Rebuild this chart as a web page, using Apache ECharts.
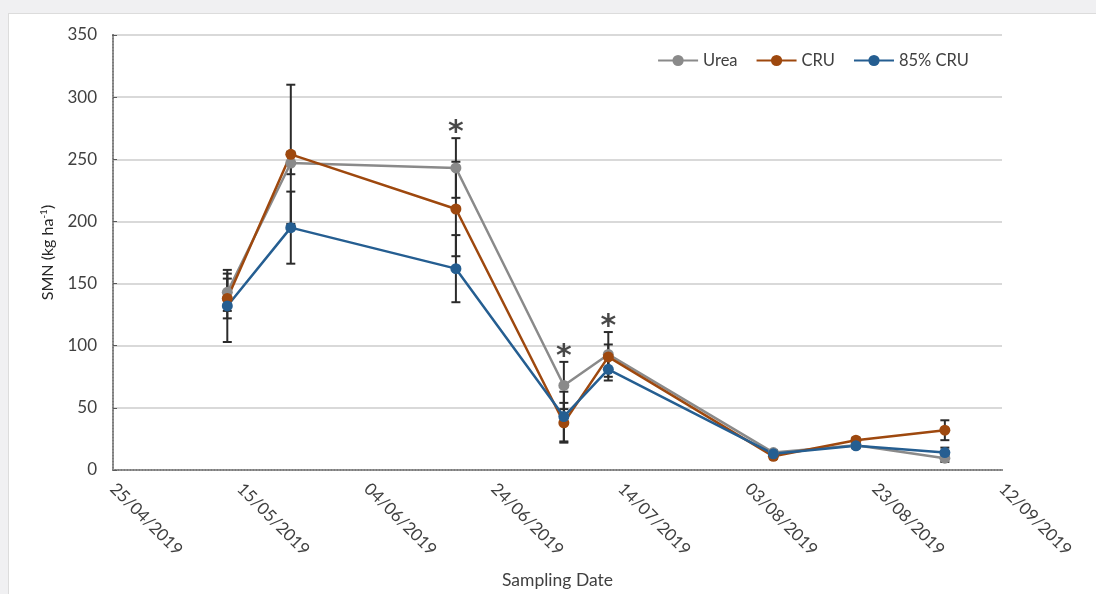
<!DOCTYPE html>
<html>
<head>
<meta charset="utf-8">
<script src="https://cdn.jsdelivr.net/npm/echarts@6/dist/echarts.min.js"></script>
<style>
html,body{margin:0;padding:0;width:1096px;height:594px;overflow:hidden;background:#f0f0f2;}
#paper{position:absolute;left:8px;top:13px;width:1088px;height:581px;background:#ffffff;border-left:1px solid #dcdcdc;border-top:1px solid #dcdcdc;box-sizing:border-box;}
#chart{position:absolute;left:0;top:0;width:1096px;height:594px;}
</style>
</head>
<body>
<div id="paper"></div>
<div id="chart"></div>
<script>
// ---- data ----
const startDate = '2019-04-25';
const tickLabels = ['25/04/2019','15/05/2019','04/06/2019','24/06/2019','14/07/2019','03/08/2019','23/08/2019','12/09/2019'];
const sampleDates = ['2019-05-13','2019-05-23','2019-06-18','2019-07-05','2019-07-12','2019-08-07','2019-08-20','2019-09-03'];
const seriesNames = ['Urea','CRU','85% CRU'];
const ureaValues = [143, 247, 243, 68, 93, 14, 20, 9.5];
const ureaErr    = [15, 9, 24, 19, 18, 2, 2, 3];
const cruValues  = [138, 254, 210, 38, 91, 11, 24, 32];
const cruErr     = [16, 56, 38, 16, 10, 2, 2, 8];
const cru85Values= [132, 195, 162, 43, 81, 13, 19.5, 14];
const cru85Err   = [29, 29, 27, 20, 9, 2, 2, 4];
const sigDates   = ['2019-06-18','2019-07-05','2019-07-12'];

// ---- helpers ----
const DAY = 86400000;
const t0 = Date.parse(startDate + 'T00:00:00Z');
const dayOf = s => Math.round((Date.parse(s + 'T00:00:00Z') - t0) / DAY);
const xs = sampleDates.map(dayOf);
const colors = ['#8a8a8a', '#9e480e', '#255e91'];
const allVals = [ureaValues, cruValues, cru85Values];
const allErr = [ureaErr, cruErr, cru85Err];
const FONT = 'Lato, "Noto Sans", sans-serif';

const lineSeries = seriesNames.map((name, i) => ({
  name, type: 'line', z: 3,
  data: xs.map((x, k) => [x, allVals[i][k]]),
  symbol: 'circle', symbolSize: 11,
  color: colors[i],
  lineStyle: { color: colors[i], width: 2.5 },
  itemStyle: { color: colors[i] },
  emphasis: { disabled: true }
}));

const errSeries = seriesNames.map((name, i) => ({
  name: name + ' error', type: 'custom', z: 2, silent: true,
  data: xs.map((x, k) => [x, allVals[i][k] - allErr[i][k], allVals[i][k] + allErr[i][k]]),
  encode: { x: 0, y: [1, 2] },
  renderItem: function (params, api) {
    const x = api.value(0);
    const lo = api.coord([x, api.value(1)]);
    const hi = api.coord([x, api.value(2)]);
    const w = 4.5;
    const st = { stroke: '#2b2b2b', lineWidth: 2 };
    return { type: 'group', children: [
      { type: 'line', shape: { x1: lo[0], y1: lo[1], x2: hi[0], y2: hi[1] }, style: st },
      { type: 'line', shape: { x1: hi[0] - w, y1: hi[1], x2: hi[0] + w, y2: hi[1] }, style: st },
      { type: 'line', shape: { x1: lo[0] - w, y1: lo[1], x2: lo[0] + w, y2: lo[1] }, style: st }
    ]};
  }
}));

const sigData = sigDates.map(d => {
  const k = sampleDates.indexOf(d);
  const top = Math.max(...allVals.map((v, i) => v[k] + allErr[i][k]));
  return [dayOf(d), top];
});

const option = {
  backgroundColor: 'transparent',
  animation: false,
  textStyle: { fontFamily: FONT },
  grid: { left: 113, right: 94, top: 35, bottom: 122, containLabel: false },
  legend: {
    data: seriesNames,
    top: 47, right: 122,
    itemWidth: 40, itemHeight: 14, itemGap: 18,
    textStyle: { fontSize: 16.5, color: '#404040', fontFamily: FONT }
  },
  xAxis: [{
    type: 'value', min: 0, max: 140, interval: 20,
    name: 'Sampling Date', nameLocation: 'middle', nameGap: 101,
    nameTextStyle: { fontSize: 17.5, color: '#404040', fontFamily: FONT },
    axisLine: { show: true, lineStyle: { color: '#595959', width: 2 } },
    axisTick: { show: false },
    splitLine: { show: false },
    axisLabel: {
      rotate: -45, margin: 16, fontSize: 17, color: '#404040', fontFamily: FONT,
      formatter: v => tickLabels[Math.round(v / 20)] || ''
    }
  }, {
    type: 'value', min: 0, max: 140, position: 'top',
    axisLine: { show: true, lineStyle: { color: '#a6a6a6', width: 1.5, type: 'dotted' } },
    axisTick: { show: false }, axisLabel: { show: false }, splitLine: { show: false }
  }],
  yAxis: [{
    type: 'value', min: 0, max: 350, interval: 50,
    name: '{a|SMN (kg ha}{s|-1}{a|)}', nameLocation: 'middle', nameGap: 57,
    nameTextStyle: {
      rich: {
        a: { fontSize: 16, color: '#262626', fontFamily: FONT },
        s: { fontSize: 10, color: '#262626', fontFamily: FONT, verticalAlign: 'top', padding: [0, 0, 7, 0] }
      }
    },
    axisLine: { show: true, lineStyle: { color: '#595959', width: 2 } },
    axisTick: { show: true, inside: true, length: 4, lineStyle: { color: '#595959' } },
    splitLine: { show: true, lineStyle: { color: '#d9d9d9', width: 2 } },
    axisLabel: { margin: 16, fontSize: 17, color: '#404040', fontFamily: FONT }
  }, {
    type: 'value', min: 0, max: 350, position: 'right',
    axisLine: { show: true, lineStyle: { color: '#a6a6a6', width: 1.5, type: 'dotted' } },
    axisTick: { show: false }, axisLabel: { show: false }, splitLine: { show: false }
  }],
  series: [
    ...errSeries,
    ...lineSeries,
    {
      name: 'sig', type: 'scatter', z: 4, silent: true,
      data: sigData, symbolSize: 1, itemStyle: { color: 'transparent' },
      label: { show: true, position: 'top', distance: -11, formatter: '*', fontSize: 30, fontWeight: 'bold', color: '#1a1a1a', fontFamily: '"DejaVu Sans", sans-serif' }
    }
  ]
};

const chart = echarts.init(document.getElementById('chart'), null, { renderer: 'canvas' });
chart.setOption(option);
</script>
</body>
</html>
